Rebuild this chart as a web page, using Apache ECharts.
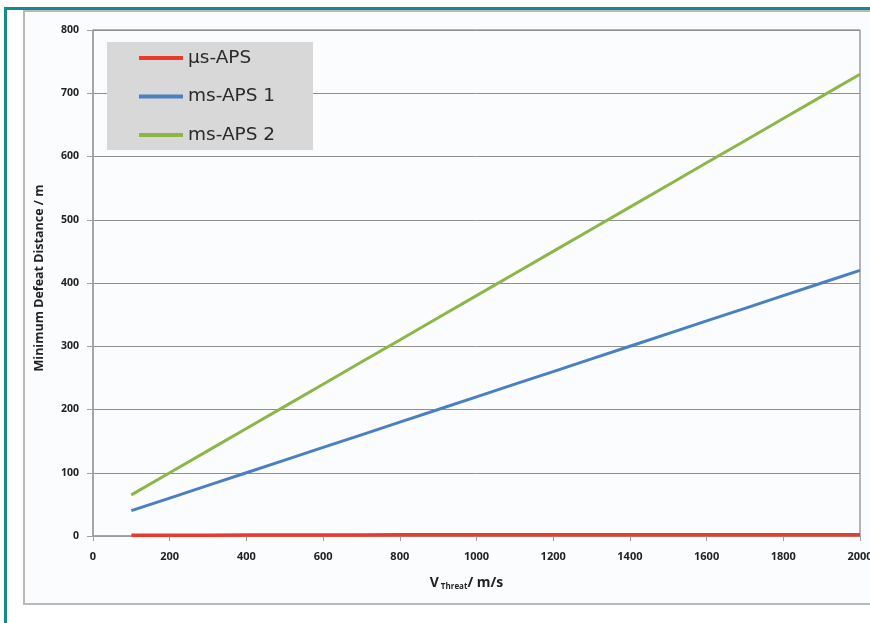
<!DOCTYPE html>
<html><head><meta charset="utf-8">
<script src="https://cdn.jsdelivr.net/npm/echarts@6/dist/echarts.min.js"></script>
<style>html,body{margin:0;padding:0;background:#fff}#c{width:870px;height:623px}</style>
</head><body><div id="c"></div>
<script>
const velocities = [100,200,300,400,500,600,700,800,900,1000,1100,1200,1300,1400,1500,1600,1700,1800,1900,2000];
const usAPS  = [1,1,1,1.5,1.5,1.5,1.5,2,2,2,2,2,2,2,2,2,2,2,2,2];
const msAPS1 = [40,60,80,100,120,140,160,180,200,220,240,260,280,300,320,340,360,380,400,420];
const msAPS2 = [65,100,135,170,205,240,275,310,345,380,415,450,485,520,555,590,625,660,695,730];
const seriesNames = ['\u00b5s-APS','ms-APS 1','ms-APS 2'];
const yTitle = 'Minimum Defeat Distance / m';

const chart = echarts.init(document.getElementById('c'));
const pair = arr => velocities.map((v,i)=>[v,arr[i]]);
const colors = ['#e83a2e','#4a7fc1','#8cb646'];
chart.setOption({
  backgroundColor:'#ffffff',
  animation:false,
  graphic:[
    {type:'rect',shape:{x:24,y:11,width:900,height:593},style:{fill:'#fbfcfe',stroke:'#b8b8b8',lineWidth:2},z:-10},
    {type:'rect',shape:{x:5.5,y:8.5,width:900,height:700},style:{fill:'none',stroke:'#138c8f',lineWidth:3},z:-9},
    {type:'rect',shape:{x:107,y:42,width:206,height:108},style:{fill:'#d8d8d8'},z:3}
  ],
  legend:{
    show:true, left:139, top:48, orient:'vertical', z:4,
    padding:0, itemGap:18.5,
    itemWidth:44, itemHeight:4, icon:'rect',
    textStyle:{fontFamily:'DejaVu Sans',fontSize:18.5,lineHeight:20,color:'#2a2a2a'},
    data:seriesNames
  },
  grid:{left:93,right:10,top:30,bottom:87,show:true,borderColor:'#6f6f6f',borderWidth:1,backgroundColor:'transparent',outerBoundsMode:'none',containLabel:false},
  xAxis:{
    type:'value',min:0,max:2000,interval:200,
    axisLine:{show:true,lineStyle:{color:'#a0a0a0',width:1.5}},
    axisTick:{show:true,length:5,inside:false,lineStyle:{color:'#a0a0a0'}},
    splitLine:{show:false},
    axisLabel:{margin:15,fontFamily:'Open Sans',fontWeight:'bold',fontSize:11,color:'#222',formatter:v=>String(v)},
    name:'{v|V}{s| Threat}{v|/ m/s}',nameLocation:'middle',nameGap:40,
    nameTextStyle:{padding:[0,20,0,0],rich:{v:{fontFamily:'Open Sans',fontWeight:'bold',fontSize:14,color:'#222'},s:{fontFamily:'Open Sans',fontWeight:'bold',fontSize:8,color:'#222',verticalAlign:'bottom',padding:[7,0,0,0]}}}
  },
  yAxis:{
    type:'value',min:0,max:800,interval:100,
    axisLine:{show:true,lineStyle:{color:'#a0a0a0',width:1.5}},
    axisTick:{show:true,length:6,lineStyle:{color:'#a0a0a0'}},
    splitLine:{show:true,lineStyle:{color:'#8f8f8f',width:1}},
    axisLabel:{margin:14,fontFamily:'Open Sans',fontWeight:'bold',fontSize:10.5,color:'#222',formatter:v=>String(v)},
    name:yTitle,nameLocation:'middle',nameGap:47,
    nameTextStyle:{fontFamily:'Open Sans',fontWeight:'bold',fontSize:12.5,color:'#222',padding:[0,0,0,10]}
  },
  series:[
    {name:seriesNames[0],type:'line',data:pair(usAPS),showSymbol:false,lineStyle:{width:3.5,color:colors[0]},itemStyle:{color:colors[0]},z:5},
    {name:seriesNames[1],type:'line',data:pair(msAPS1),showSymbol:false,lineStyle:{width:3,color:colors[1]},itemStyle:{color:colors[1]}},
    {name:seriesNames[2],type:'line',data:pair(msAPS2),showSymbol:false,lineStyle:{width:3,color:colors[2]},itemStyle:{color:colors[2]}}
  ]
});
</script></body></html>
